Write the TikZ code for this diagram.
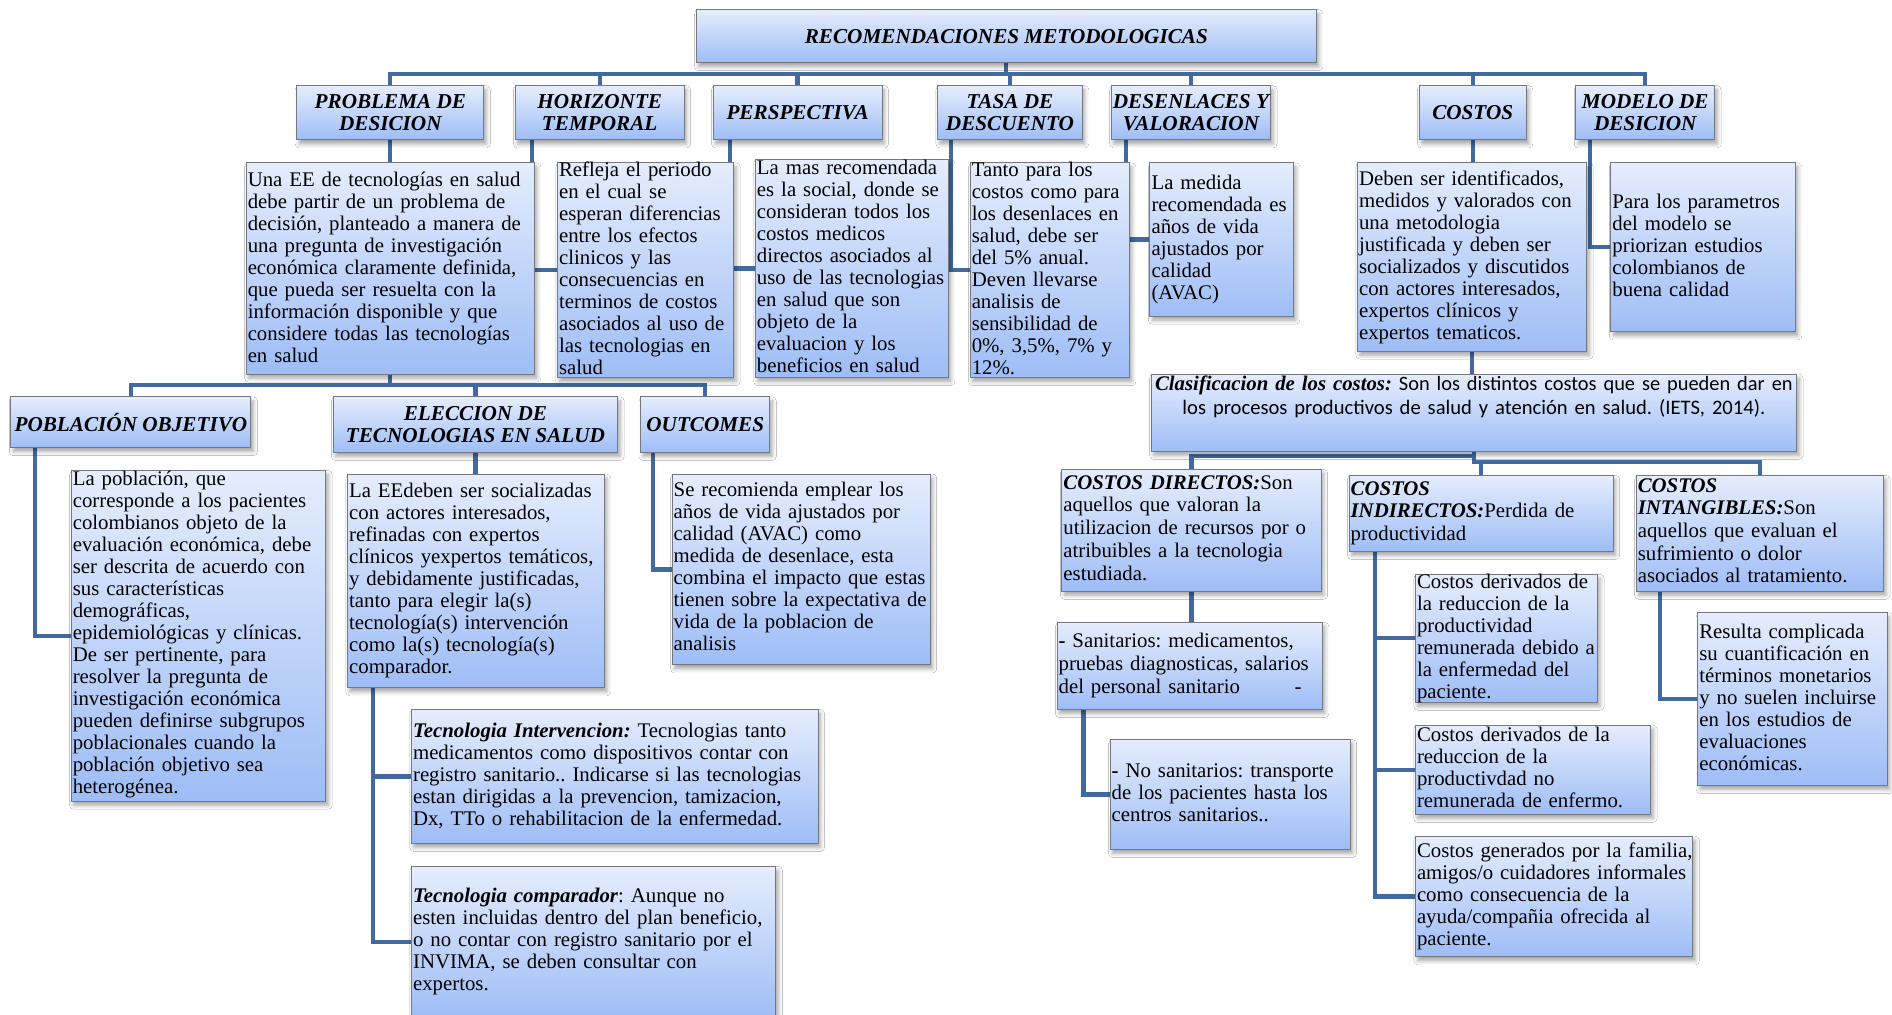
\documentclass[tikz,border=0pt]{standalone}
\usepackage{fontspec}
\setmainfont{Liberation Serif}
\newfontfamily\calib{Carlito}
\usetikzlibrary{calc,shadows.blur}
\definecolor{boxtop}{RGB}{229,237,253}
\definecolor{boxbot}{RGB}{158,189,246}
\definecolor{boxline}{RGB}{118,120,128}
\definecolor{conn}{RGB}{66,106,160}
\pgfdeclarelayer{bg}
\pgfsetlayers{bg,main}
\tikzset{
  panel/.style={draw=boxline, line width=0.5pt, top color=boxtop, bottom color=boxbot,
    inner sep=0pt, outer sep=0pt, anchor=north west,
    blur shadow={shadow xshift=1.2pt, shadow yshift=-2pt, shadow blur radius=2pt, shadow opacity=35}},
  head/.style={panel, align=center, font=\fontsize{10.6}{10.8}\selectfont\bfseries\itshape},
  body/.style={anchor=base west, inner sep=0pt, text width=330pt, align=left,
    font=\fontsize{10.4}{11}\selectfont},
  link/.style={draw=conn, line width=2.1pt},
}
% box: style, name, x1, y1, x2, y2, text
\newcommand\bx[7]{\node[#1, minimum width={(#5-#3)*0.6033pt}, minimum height={(#6-#4)*0.6033pt}] (#2) at (#3,#4) {#7};}
\newcommand\bi[1]{\textbf{\textit{#1}}}
\frenchspacing
\begin{document}
\frenchspacing
\begin{tikzpicture}[x=0.6033pt, y=-0.6033pt]
\useasboundingbox (0,0) rectangle (1568,841);

% ---- headings
\bx{head}{title}{577}{8}{1091}{52}{RECOMENDACIONES METODOLOGICAS}
\bx{head}{h1}{246}{71}{401}{116}{PROBLEMA DE\\DESICION}
\bx{head}{h2}{427}{71}{567}{116}{HORIZONTE\\TEMPORAL}
\bx{head}{h3}{591}{71}{731}{116}{PERSPECTIVA}
\bx{head}{h4}{777}{71}{897}{116}{TASA DE\\DESCUENTO}
\bx{head}{h5}{921}{71}{1053}{116}{DESENLACES Y\\VALORACION}
\bx{head}{h6}{1176}{71}{1265}{116}{COSTOS}
\bx{head}{h7}{1306}{71}{1421}{116}{MODELO DE\\DESICION}
\bx{head}{p1}{9}{329}{208}{371}{POBLACIÓN OBJETIVO}
\bx{head}{p2}{276}{329}{512}{375}{ELECCION DE\\TECNOLOGIAS EN SALUD}
\bx{head}{p3}{531}{329}{638}{375}{OUTCOMES}

% ---- text panels
\bx{panel}{t1}{204}{135}{443}{310}{}
\bx{panel}{t2}{462}{135}{608}{313}{}
\bx{panel}{t3}{626}{132}{786}{313}{}
\bx{panel}{t4}{804}{135}{936}{313}{}
\bx{panel}{t5}{953}{135}{1072}{262}{}
\bx{panel}{t6}{1125}{135}{1315}{291}{}
\bx{panel}{t7}{1335}{135}{1488}{275}{}
\bx{panel}{clas}{954}{310}{1489}{374}{}
\bx{panel}{d1}{880}{389}{1095}{490}{}
\bx{panel}{d2}{1118}{394}{1337}{457}{}
\bx{panel}{d3}{1356}{394}{1561}{490}{}
\bx{panel}{s1}{876}{516}{1096}{588}{}
\bx{panel}{s2}{920}{613}{1119}{704}{}
\bx{panel}{i1}{1173}{476}{1324}{582}{}
\bx{panel}{i2}{1173}{601}{1368}{675}{}
\bx{panel}{i3}{1173}{693}{1403}{793}{}
\bx{panel}{g1}{1407}{508}{1564}{651}{}
\bx{panel}{q1}{59}{390}{270}{664}{}
\bx{panel}{q2}{288}{393}{501}{570}{}
\bx{panel}{q3}{557}{393}{771}{551}{}
\bx{panel}{e1}{341}{588}{678}{699}{}
\bx{panel}{e2}{341}{718}{643}{844}{}

% ---- texts
\node[body] (t1x) at (205,154.6) {Una EE de tecnologías en salud\\debe partir de un problema de\\decisión, planteado a manera de\\una pregunta de investigación\\económica claramente definida,\\que pueda ser resuelta con la\\información disponible y que\\considere todas las tecnologías\\en salud};
\node[body] (t2x) at (463,146.3) {Refleja el periodo\\en el cual se\\esperan diferencias\\entre los efectos\\clinicos y las\\consecuencias en\\terminos de costos\\asociados al uso de\\las tecnologias en\\salud};
\node[body] (t3x) at (627,144.9) {La mas recomendada\\es la social, donde se\\consideran todos los\\costos medicos\\directos asociados al\\uso de las tecnologias\\en salud que son\\objeto de la\\evaluacion y los\\beneficios en salud};
\node[body] (t4x) at (805,146.3) {Tanto para los\\costos como para\\los desenlaces en\\salud, debe ser\\del 5\% anual.\\Deven llevarse\\analisis de\\sensibilidad de\\0\%, 3,5\%, 7\% y\\12\%.};
\node[body] (t5x) at (954,156.8) {La medida\\recomendada es\\años de vida\\ajustados por\\calidad\\(AVAC)};
\node[body] (t6x) at (1126,154) {Deben ser identificados,\\medidos y valorados con\\una metodologia\\justificada y deben ser\\socializados y discutidos\\con actores interesados,\\expertos clínicos y\\expertos tematicos.};
\node[body] (t7x) at (1336,173) {Para los parametros\\del modelo se\\priorizan estudios\\colombianos de\\buena calidad};
\node[body, anchor=base, text width=380pt, align=center, font=\fontsize{10.4}{12}\selectfont] (clasx) at (1221.5,324)
  {\bi{Clasificacion de los costos:} {\calib\fontsize{10.2}{12}\selectfont Son los distintos costos que se pueden dar en}\\{\calib\fontsize{10.3}{12}\selectfont los procesos productivos de salud y atención en salud. (IETS, 2014).}};
\node[body, font=\fontsize{10.4}{11.35}\selectfont] (d1x) at (881,405.5) {\bi{COSTOS DIRECTOS:}Son\\aquellos que valoran la\\utilizacion de recursos por o\\atribuibles a la tecnologia\\estudiada.};
\node[body, font=\fontsize{10.4}{11.15}\selectfont] (d2x) at (1119,410.7) {\bi{COSTOS}\\\bi{INDIRECTOS:}Perdida de\\productividad};
\node[body, font=\fontsize{10.4}{11.3}\selectfont] (d3x) at (1357,408) {\bi{COSTOS}\\\bi{INTANGIBLES:}Son\\aquellos que evaluan el\\sufrimiento o dolor\\asociados al tratamiento.};
\node[body, font=\fontsize{10.4}{11.4}\selectfont] (s1x) at (877,537) {\textbf{-} Sanitarios: medicamentos,\\pruebas diagnosticas, salarios\\\makebox[118pt][l]{del personal sanitario}-};
\node[body] (s2x) at (921,644.4) {\textbf{-} No sanitarios: transporte\\de los pacientes hasta los\\centros sanitarios..};
\node[body] (i1x) at (1174,487.6) {Costos derivados de\\la reduccion de la\\productividad\\remunerada debido a\\la enfermedad del\\paciente.};
\node[body] (i2x) at (1174,614.6) {Costos derivados de la\\reduccion de la\\productivdad no\\remunerada de enfermo.};
\node[body] (i3x) at (1174,710.9) {Costos generados por la familia,\\amigos/o cuidadores informales\\como consecuencia de la\\ayuda/compañia ofrecida al\\paciente.};
\node[body] (g1x) at (1408,529.1) {Resulta complicada\\su cuantificación en\\términos monetarios\\y no suelen incluirse\\en los estudios de\\evaluaciones\\económicas.};
\node[body] (q1x) at (60,402.2) {La población, que\\corresponde a los pacientes\\colombianos objeto de la\\evaluación económica, debe\\ser descrita de acuerdo con\\sus características\\demográficas,\\epidemiológicas y clínicas.\\De ser pertinente, para\\resolver la pregunta de\\investigación económica\\pueden definirse subgrupos\\poblacionales cuando la\\población objetivo sea\\heterogénea.};
\node[body] (q2x) at (289,412.2) {La EEdeben ser socializadas\\con actores interesados,\\refinadas con expertos\\clínicos yexpertos temáticos,\\y debidamente justificadas,\\tanto para elegir la(s)\\tecnología(s) intervención\\como la(s) tecnología(s)\\comparador.};
\node[body] (q3x) at (558,411.3) {Se recomienda emplear los\\años de vida ajustados por\\calidad (AVAC) como\\medida de desenlace, esta\\combina el impacto que estas\\tienen sobre la expectativa de\\vida de la poblacion de\\analisis};
\node[body] (e1x) at (342,611) {\bi{Tecnologia Intervencion:} Tecnologias tanto\\medicamentos como dispositivos contar con\\registro sanitario.. Indicarse si las tecnologias\\estan dirigidas a la prevencion, tamizacion,\\Dx, TTo o rehabilitacion de la enfermedad.};
\node[body] (e2x) at (342,748) {\bi{Tecnologia comparador}: Aunque no\\esten incluidas dentro del plan beneficio,\\o no contar con registro sanitario por el\\INVIMA, se deben consultar con\\expertos.};

% ---- connectors (behind the panels)
\coordinate (busA) at (0,61);
\coordinate (busB) at (0,319);
\coordinate (busC) at (0,378);
\coordinate (busD) at (0,383);
\begin{pgfonlayer}{bg}
\fill[white] (0,0) rectangle (1568,841);
\foreach \h in {h1,h2,h3,h4,h5,h6,h7}
  \draw[link] (title.south) -- (title.south |- busA) -| (\h.north);
\foreach \p in {p1,p2,p3}
  \draw[link] (t1.south) -- (t1.south |- busB) -| (\p.north);
\draw[link] (clas.south) -- (clas.south |- busC) -| (d1.north);
\draw[link] (clas.south) -- (clas.south |- busD) -| (d2.north);
\draw[link] (clas.south) -- (clas.south |- busD) -| (d3.north);
\draw[link] (h1.south) -- (h1.south |- t1.north);
\draw[link] (h6.south) -- (h6.south |- t6.north);
\draw[link] (t6.south) -- (t6.south |- clas.north);
\draw[link] (p2.south) -- (p2.south |- q2.north);
\draw[link] (d1.south) -- (d1.south |- s1.north);
\draw[link] ($(h2.south west)+(14,0)$) |- (t2.west);
\draw[link] ($(h3.south west)+(14,0)$) |- (t3.west);
\draw[link] ($(h4.south west)+(11,0)$) |- (t4.west);
\draw[link] ($(h5.south west)+(12,0)$) |- (t5.west);
\draw[link] ($(h7.south west)+(12,0)$) |- (t7.west);
\draw[link] ($(p1.south west)+(20,0)$) |- (q1.west);
\draw[link] ($(p3.south west)+(10,0)$) |- (q3.west);
\draw[link] ($(q2.south west)+(21,0)$) |- (e1.west);
\draw[link] ($(q2.south west)+(21,0)$) |- (e2.west);
\draw[link] ($(s1.south west)+(22,0)$) |- (s2.west);
\draw[link] ($(d2.south west)+(21.5,0)$) |- (i1.west);
\draw[link] ($(d2.south west)+(21.5,0)$) |- (i2.west);
\draw[link] ($(d2.south west)+(21.5,0)$) |- (i3.west);
\draw[link] ($(d3.south west)+(20,0)$) |- (g1.west);
\end{pgfonlayer}
\end{tikzpicture}
\end{document}
